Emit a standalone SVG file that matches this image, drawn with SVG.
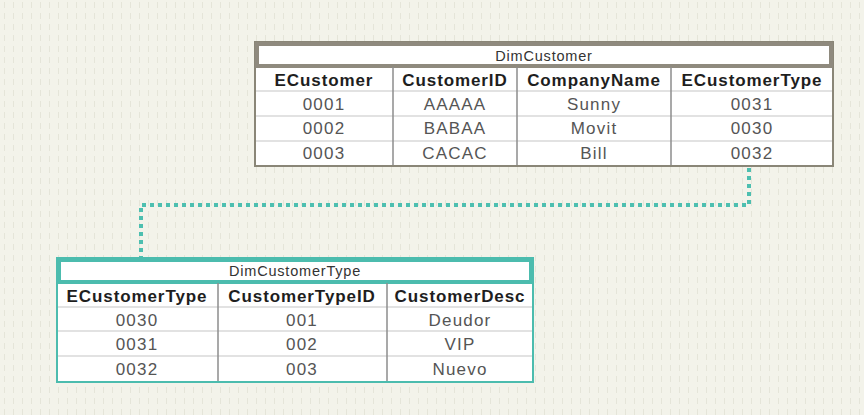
<svg xmlns="http://www.w3.org/2000/svg" width="864" height="415" viewBox="0 0 864 415">
<defs>
<pattern id="bg" x="0" y="0" width="9" height="11" patternUnits="userSpaceOnUse">
<rect width="9" height="11" fill="#f3f3ea"/>
<rect x="4" y="2" width="1" height="6" fill="#e5e5d9"/>
</pattern>
<style>
.hdr{font-family:"Liberation Sans",Arial,sans-serif;font-weight:bold;font-size:17px;fill:#1e1e1e;text-anchor:middle;letter-spacing:0.9px}
.cell{font-family:"Liberation Sans",Arial,sans-serif;font-size:17px;fill:#555;text-anchor:middle;letter-spacing:1.2px}
.ttl{font-family:"Liberation Sans",Arial,sans-serif;font-size:14.5px;fill:#333;text-anchor:middle;letter-spacing:0.8px}
.rowline{stroke:#d9d9d9;stroke-width:1.5}
.colline{stroke:#8c8c8c;stroke-width:1.5}
</style>
</defs>
<rect width="864" height="415" fill="url(#bg)"/>

<g id="connectors">
<path d="M749,168 V205 H141 V257" fill="none" stroke="#4dbfb0" stroke-width="4" stroke-dasharray="4 4"/>
</g>

<g id="DimCustomer">
<rect x="255" y="42" width="578" height="124" fill="#fff" stroke="#8a8677" stroke-width="2"/>
<rect x="257" y="44" width="574" height="22" fill="#fff" stroke="#8f8a7e" stroke-width="4"/>
<line class="rowline" x1="256" y1="91" x2="832" y2="91"/>
<line class="rowline" x1="256" y1="116" x2="832" y2="116"/>
<line class="rowline" x1="256" y1="141" x2="832" y2="141"/>
<line class="colline" x1="393" y1="67" x2="393" y2="165"/>
<line class="colline" x1="517" y1="67" x2="517" y2="165"/>
<line class="colline" x1="671" y1="67" x2="671" y2="165"/>
<text class="ttl" x="544" y="61">DimCustomer</text>
<text class="hdr" x="324" y="86">ECustomer</text>
<text class="hdr" x="455" y="86">CustomerID</text>
<text class="hdr" x="594" y="86">CompanyName</text>
<text class="hdr" x="752" y="86">ECustomerType</text>
<text class="cell" x="324" y="110">0001</text>
<text class="cell" x="455" y="110">AAAAA</text>
<text class="cell" x="594" y="110">Sunny</text>
<text class="cell" x="752" y="110">0031</text>
<text class="cell" x="324" y="134">0002</text>
<text class="cell" x="455" y="134">BABAA</text>
<text class="cell" x="594" y="134">Movit</text>
<text class="cell" x="752" y="134">0030</text>
<text class="cell" x="324" y="159">0003</text>
<text class="cell" x="455" y="159">CACAC</text>
<text class="cell" x="594" y="159">Bill</text>
<text class="cell" x="752" y="159">0032</text>
</g>

<g id="DimCustomerType">
<rect x="57" y="258" width="476" height="124" fill="#fff" stroke="#4cbcae" stroke-width="2"/>
<rect x="59" y="260" width="472" height="22" fill="#fff" stroke="#4cbcae" stroke-width="4"/>
<line class="rowline" x1="58" y1="307" x2="532" y2="307"/>
<line class="rowline" x1="58" y1="331" x2="532" y2="331"/>
<line class="rowline" x1="58" y1="356" x2="532" y2="356"/>
<line class="colline" x1="218" y1="283" x2="218" y2="381"/>
<line class="colline" x1="387" y1="283" x2="387" y2="381"/>
<text class="ttl" x="295" y="276">DimCustomerType</text>
<text class="hdr" x="137" y="302">ECustomerType</text>
<text class="hdr" x="302" y="302">CustomerTypeID</text>
<text class="hdr" x="460" y="302">CustomerDesc</text>
<text class="cell" x="137" y="326">0030</text>
<text class="cell" x="302" y="326">001</text>
<text class="cell" x="460" y="326">Deudor</text>
<text class="cell" x="137" y="350">0031</text>
<text class="cell" x="302" y="350">002</text>
<text class="cell" x="460" y="350">VIP</text>
<text class="cell" x="137" y="375">0032</text>
<text class="cell" x="302" y="375">003</text>
<text class="cell" x="460" y="375">Nuevo</text>
</g>
</svg>
